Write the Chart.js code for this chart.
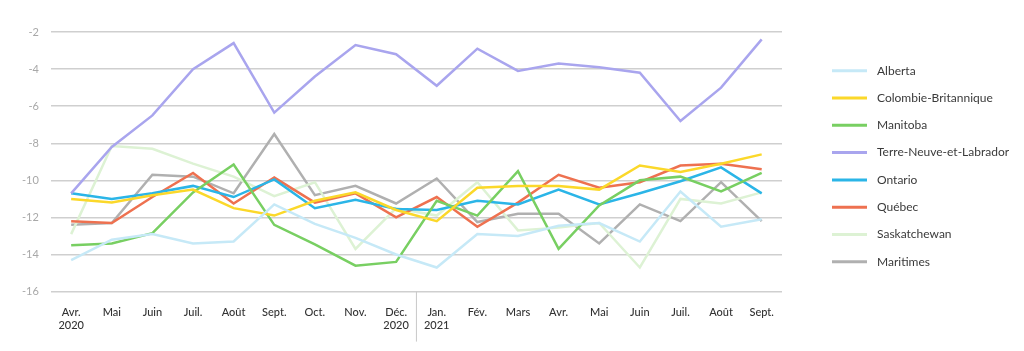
<!DOCTYPE html>
<html lang="fr">
<head>
<meta charset="utf-8">
<title>Variation par province</title>
<script src="https://cdn.jsdelivr.net/npm/chart.js@4.4.1/dist/chart.umd.min.js"></script>
<style>
  html, body { margin: 0; padding: 0; background: #ffffff; }
  #wrap { width: 1024px; height: 351px; position: relative; }
</style>
</head>
<body>
<div id="wrap"><canvas id="provinceChart"></canvas></div>
<script>
// Month labels (two lines where the year is shown)
const months = [
  ['Avr.', '2020'], 'Mai', 'Juin', 'Juil.', 'Août', 'Sept.', 'Oct.', 'Nov.', ['Déc.', '2020'],
  ['Jan.', '2021'], 'Fév.', 'Mars', 'Avr.', 'Mai', 'Juin', 'Juil.', 'Août', 'Sept.'
];

// Series values
const alberta    = [-14.3, -13.2, -12.9, -13.4, -13.3, -11.3, -12.35, -13.1, -14.0, -14.7, -12.9, -13.0, -12.45, -12.3, -13.3, -10.6, -12.5, -12.1];
const colombie   = [-11.0, -11.2, -10.8, -10.5, -11.5, -11.9, -11.1, -10.65, -11.6, -12.2, -10.4, -10.3, -10.3, -10.5, -9.2, -9.55, -9.1, -8.6];
const manitoba   = [-13.5, -13.4, -12.85, -10.65, -9.15, -12.4, -13.45, -14.6, -14.4, -11.1, -11.9, -9.5, -13.7, -11.35, -10.0, -9.8, -10.6, -9.6];
const terreNeuve = [-10.7, -8.2, -6.5, -4.0, -2.6, -6.35, -4.4, -2.7, -3.2, -4.9, -2.9, -4.1, -3.7, -3.9, -4.2, -6.8, -5.0, -2.4];
const ontario    = [-10.7, -11.0, -10.7, -10.3, -10.9, -9.95, -11.5, -11.05, -11.55, -11.6, -11.1, -11.3, -10.5, -11.3, -10.7, -10.05, -9.3, -10.7];
const quebec     = [-12.2, -12.3, -10.9, -9.6, -11.25, -9.85, -11.2, -10.7, -12.0, -10.9, -12.5, -11.2, -9.7, -10.4, -10.1, -9.2, -9.1, -9.4];
const sask       = [-12.9, -8.15, -8.3, -9.1, -9.8, -10.85, -10.1, -13.7, -11.5, -11.9, -10.1, -12.7, -12.55, -12.3, -14.7, -11.0, -11.25, -10.65];
const maritimes  = [-12.4, -12.3, -9.7, -9.8, -10.7, -7.5, -10.8, -10.3, -11.25, -9.9, -12.25, -11.8, -11.8, -13.4, -11.3, -12.2, -10.1, -12.2];

// Y axis ticks
const yTicks = [-16, -14, -12, -10, -8, -6, -4, -2];

const FONT = 'Lato, "Noto Sans", sans-serif';

function series(label, data, color) {
  return {
    label: label,
    data: data,
    borderColor: color,
    backgroundColor: color,
    borderWidth: 2.5,
    pointRadius: 0,
    pointHoverRadius: 0,
    tension: 0,
    fill: false
  };
}

// Thin vertical separator between 2020 and 2021 under the x axis
const yearSeparator = {
  id: 'yearSeparator',
  afterDraw(chart) {
    const x = chart.scales.x;
    const px = (x.getPixelForValue(8) + x.getPixelForValue(9)) / 2;
    const ctx = chart.ctx;
    ctx.save();
    ctx.strokeStyle = '#c8c8c8';
    ctx.lineWidth = 1;
    ctx.beginPath();
    ctx.moveTo(px, chart.chartArea.bottom);
    ctx.lineTo(px, chart.chartArea.bottom + 50);
    ctx.stroke();
    ctx.restore();
  }
};

// Legend drawn in the right-hand margin, one row per dataset
const sideLegend = {
  id: 'sideLegend',
  afterDraw(chart) {
    const ctx = chart.ctx;
    const left = chart.chartArea.right + 50;
    const top = 70.7;
    const rowGap = 27.3;
    ctx.save();
    ctx.font = '12px ' + FONT;
    ctx.textBaseline = 'middle';
    ctx.fillStyle = '#3a3a3a';
    chart.data.datasets.forEach((ds, i) => {
      const y = top + i * rowGap;
      ctx.strokeStyle = ds.borderColor;
      ctx.lineWidth = 3;
      ctx.beginPath();
      ctx.moveTo(left, y);
      ctx.lineTo(left + 35, y);
      ctx.stroke();
      ctx.fillText(ds.label, left + 45, y);
    });
    ctx.restore();
  }
};

document.addEventListener('DOMContentLoaded', function() {
  const ctx = document.getElementById('provinceChart').getContext('2d');

  new Chart(ctx, {
    type: 'line',
    data: {
      labels: months,
      datasets: [
        series('Alberta', alberta, '#c6e9f7'),
        series('Colombie-Britannique', colombie, '#fbd82a'),
        series('Manitoba', manitoba, '#78cf62'),
        series('Terre-Neuve-et-Labrador', terreNeuve, '#a9a5ee'),
        series('Ontario', ontario, '#2bb5e7'),
        series('Québec', quebec, '#ee7150'),
        series('Saskatchewan', sask, '#ddf2d4'),
        series('Maritimes', maritimes, '#b0b0b0')
      ]
    },
    options: {
      responsive: true,
      maintainAspectRatio: false,
      animation: false,
      layout: {
        padding: { top: 32, bottom: 13, left: 10, right: 242 }
      },
      plugins: {
        tooltip: { enabled: false },
        legend: { display: false }
      },
      scales: {
        x: {
          offset: true,
          grid: { display: false },
          border: { display: false },
          ticks: {
            color: '#333333',
            padding: 6,
            maxRotation: 0,
            autoSkip: false,
            font: { family: FONT, size: 11, weight: '500' }
          }
        },
        y: {
          min: -16,
          max: -2,
          afterBuildTicks(scale) {
            scale.ticks = yTicks.map(v => ({ value: v }));
          },
          grid: { color: '#cfcfcf', lineWidth: 1.5, drawTicks: false },
          border: { display: false },
          ticks: {
            color: '#a8a8a8',
            padding: 12,
            font: { family: FONT, size: 11 }
          }
        }
      }
    },
    plugins: [yearSeparator, sideLegend]
  });
});
</script>
</body>
</html>
